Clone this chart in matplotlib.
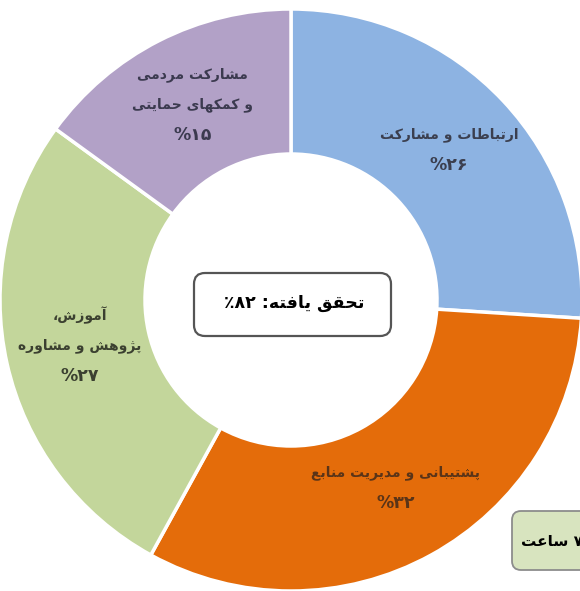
import numpy as np
import matplotlib
matplotlib.use("Agg")
import matplotlib.pyplot as plt
from matplotlib.patches import FancyBboxPatch

plt.rcParams['font.family'] = ['DejaVu Sans']

# -----------------------------
# DATA
# -----------------------------
categories = [
    ["ارتباطات و مشارکت"],
    ["پشتیبانی و مدیریت منابع"],
    ["آموزش،", "پژوهش و مشاوره"],
    ["مشارکت مردمی", "و کمکهای حمایتی"],
]
shares = [26, 32, 27, 15]
colors = ["#8db3e2", "#e46c0a", "#c3d69b", "#b2a1c7"]
text_colors = ["#3b3f4f", "#5a3418", "#3b4030", "#3b3a4f"]

achieved_label = "تحقق یافته:"
achieved_value = 82
hours_label = "ساعت"
hours_value = 7

# -----------------------------
# simple persian shaping (matplotlib has no bidi / joining)
# -----------------------------
FORMS = {
    'ا': (0xFE8D, 0xFE8E, None, None),
    'آ': (0xFE81, 0xFE82, None, None),
    'ب': (0xFE8F, 0xFE90, 0xFE91, 0xFE92),
    'پ': (0xFB56, 0xFB57, 0xFB58, 0xFB59),
    'ت': (0xFE95, 0xFE96, 0xFE97, 0xFE98),
    'ح': (0xFEA1, 0xFEA2, 0xFEA3, 0xFEA4),
    'د': (0xFEA9, 0xFEAA, None, None),
    'ر': (0xFEAD, 0xFEAE, None, None),
    'ز': (0xFEAF, 0xFEB0, None, None),
    'ژ': (0xFB8A, 0xFB8B, None, None),
    'س': (0xFEB1, 0xFEB2, 0xFEB3, 0xFEB4),
    'ش': (0xFEB5, 0xFEB6, 0xFEB7, 0xFEB8),
    'ط': (0xFEC1, 0xFEC2, 0xFEC3, 0xFEC4),
    'ع': (0xFEC9, 0xFECA, 0xFECB, 0xFECC),
    'ف': (0xFED1, 0xFED2, 0xFED3, 0xFED4),
    'ق': (0xFED5, 0xFED6, 0xFED7, 0xFED8),
    'ک': (0xFB8E, 0xFB8F, 0xFB90, 0xFB91),
    'م': (0xFEE1, 0xFEE2, 0xFEE3, 0xFEE4),
    'ن': (0xFEE5, 0xFEE6, 0xFEE7, 0xFEE8),
    'ه': (0xFEE9, 0xFEEA, 0xFEEB, 0xFEEC),
    'و': (0xFEED, 0xFEEE, None, None),
    'ی': (0xFBFC, 0xFBFD, 0xFBFE, 0xFBFF),
}


def shape(text):
    out = []
    for i, c in enumerate(text):
        f = FORMS.get(c)
        if f is None:
            out.append(c)
            continue
        prev = text[i - 1] if i > 0 else None
        nxt = text[i + 1] if i + 1 < len(text) else None
        join_prev = prev in FORMS and FORMS[prev][2] is not None
        join_next = f[2] is not None and nxt in FORMS
        if join_prev and join_next:
            code = f[3]
        elif join_prev:
            code = f[1]
        elif join_next:
            code = f[2]
        else:
            code = f[0]
        out.append(chr(code))
    return ''.join(out)


def rtl(text):
    return shape(text)[::-1]


def fa_digits(n):
    return ''.join(chr(0x06F0 + int(d)) for d in str(n))


# -----------------------------
# FIGURE
# -----------------------------
W, H = 580, 591
fig = plt.figure(figsize=(W / 100, H / 100), dpi=100)
ax = fig.add_axes([0, 0, 1, 1])

R = 291
cx, cy = 291, 291
wedges, _ = ax.pie(
    shares,
    colors=colors,
    startangle=90,
    counterclock=False,
    center=(cx, cy),
    radius=R,
    wedgeprops=dict(width=145, edgecolor="white", linewidth=2.5),
)

ax.set_xlim(0, W)
ax.set_ylim(0, H)
ax.set_aspect("equal")
ax.axis("off")

# segment labels
for w, lines, share, tc in zip(wedges, categories, shares, text_colors):
    mid = np.deg2rad((w.theta1 + w.theta2) / 2)
    lx = cx + 0.745 * R * np.cos(mid)
    ly = cy + 0.745 * R * np.sin(mid)
    n = len(lines) + 1
    step = 30.5
    top = ly + (n - 1) / 2 * step + 2
    for k, s in enumerate(lines):
        ax.text(lx, top - k * step, rtl(s), ha="center", va="center",
                fontsize=10, fontweight="bold", color=tc)
    ax.text(lx, top - len(lines) * step, "%" + fa_digits(share),
            ha="center", va="center", fontsize=12.5, fontweight="bold", color=tc)

# center box
box = FancyBboxPatch((194, 255), 197, 63,
                     boxstyle="round,pad=0,rounding_size=11",
                     facecolor="white", edgecolor="#555555", linewidth=1.6)
ax.add_patch(box)
ax.text(294, 288, "٪" + fa_digits(achieved_value) + " " + rtl(achieved_label),
        ha="center", va="center", fontsize=12.5, fontweight="bold", color="black")

# hours box, cut at the right edge
hbox = FancyBboxPatch((512, 21), 100, 59,
                      boxstyle="round,pad=0,rounding_size=9",
                      facecolor="#d8e4bf", edgecolor="#8c8c8c", linewidth=1.3)
ax.add_patch(hbox)
ax.text(521, 50, rtl(hours_label) + " " + fa_digits(hours_value),
        ha="left", va="center", fontsize=11, fontweight="bold", color="black",
        clip_on=True)

fig.savefig("out.png", dpi=100, facecolor="white")
